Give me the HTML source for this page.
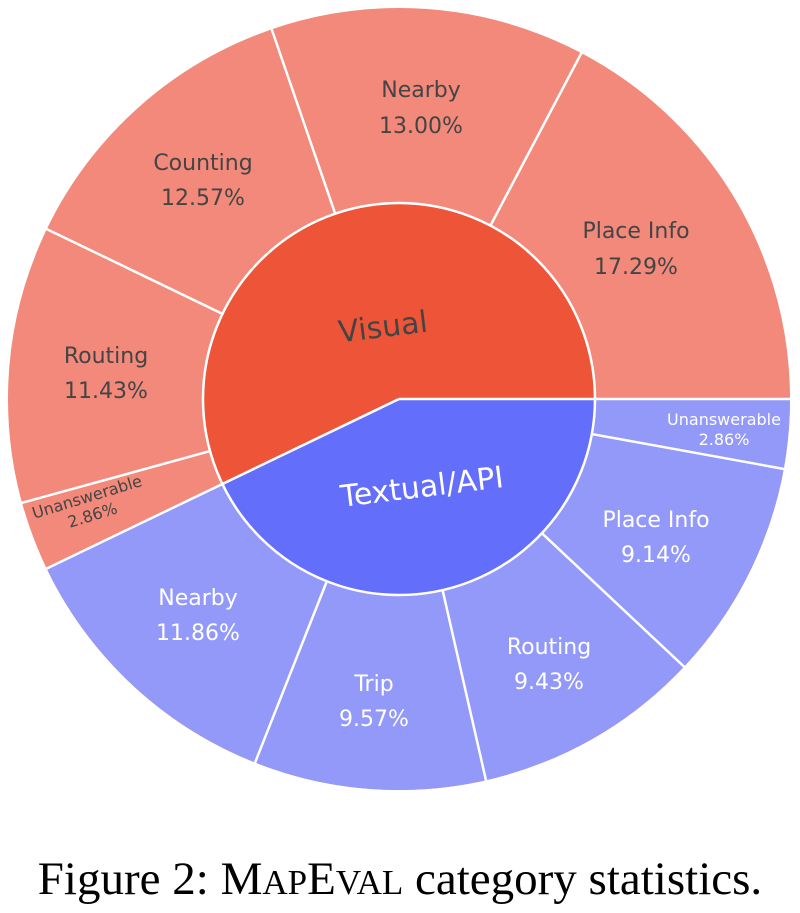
<!DOCTYPE html>
<html><head><style>
html,body{margin:0;padding:0;background:#fff;width:800px;height:913px;overflow:hidden}
svg{position:absolute;left:0;top:0}
.t{font-family:"DejaVu Sans","Liberation Sans",sans-serif;text-anchor:middle}
.cap{font-family:"Liberation Serif",serif;font-size:47px;fill:#000;text-anchor:middle}
</style></head><body>
<svg width="800" height="913" viewBox="0 0 800 913">
<g transform="translate(399,399)">
  <circle r="293.5" fill="none" stroke="#f2897a" stroke-width="195"/>
  <circle r="293.5" fill="none" stroke="#9399f9" stroke-width="195" stroke-dasharray="790.3 2000"/>
  <circle r="98" fill="none" stroke="#ee5538" stroke-width="196"/>
  <circle r="98" fill="none" stroke="#636efa" stroke-width="196" stroke-dasharray="263.9 1000"/>
  <circle r="196" fill="none" stroke="#fff" stroke-width="2.5"/>
  <g stroke="#fff" stroke-width="2.5">
    <line x1="0" x2="392"/>
    <line x1="0" x2="392" transform="rotate(154.3)"/>
    <line x1="196" x2="392" transform="rotate(10.3)"/>
    <line x1="196" x2="392" transform="rotate(43.2)"/>
    <line x1="196" x2="392" transform="rotate(77.15)"/>
    <line x1="196" x2="392" transform="rotate(111.6)"/>
    <line x1="196" x2="392" transform="rotate(164.6)"/>
    <line x1="196" x2="392" transform="rotate(205.75)"/>
    <line x1="196" x2="392" transform="rotate(251)"/>
    <line x1="196" x2="392" transform="rotate(297.8)"/>
  </g>
</g>
<g class="t" fill="#444" font-size="22">
  <text x="421" y="97">Nearby</text><text x="421" y="133">13.00%</text>
  <text x="203" y="170">Counting</text><text x="203" y="205">12.57%</text>
  <text x="636" y="238">Place Info</text><text x="636" y="274">17.29%</text>
  <text x="106" y="363">Routing</text><text x="106" y="398">11.43%</text>
  <text x="383" y="337" font-size="30" transform="rotate(-7 383 327)">Visual</text>
  <g font-size="16" transform="rotate(-17 90 507)"><text x="90" y="502">Unanswerable</text><text x="90" y="521">2.86%</text></g>
</g>
<g class="t" fill="#fff" font-size="22">
  <text x="422" y="497" font-size="30" transform="rotate(-7 422 487)">Textual/API</text>
  <text x="656" y="527">Place Info</text><text x="656" y="562">9.14%</text>
  <text x="549" y="654">Routing</text><text x="549" y="689">9.43%</text>
  <text x="374" y="691">Trip</text><text x="374" y="726">9.57%</text>
  <text x="198" y="605">Nearby</text><text x="198" y="640">11.86%</text>
  <text x="724" y="425" font-size="16">Unanswerable</text><text x="724" y="445" font-size="16">2.86%</text>
</g>
<text class="cap" x="400" y="894">Figure 2: M<tspan font-size="35">AP</tspan>E<tspan font-size="35">VAL</tspan> category statistics.</text>
</svg>
</body></html>
